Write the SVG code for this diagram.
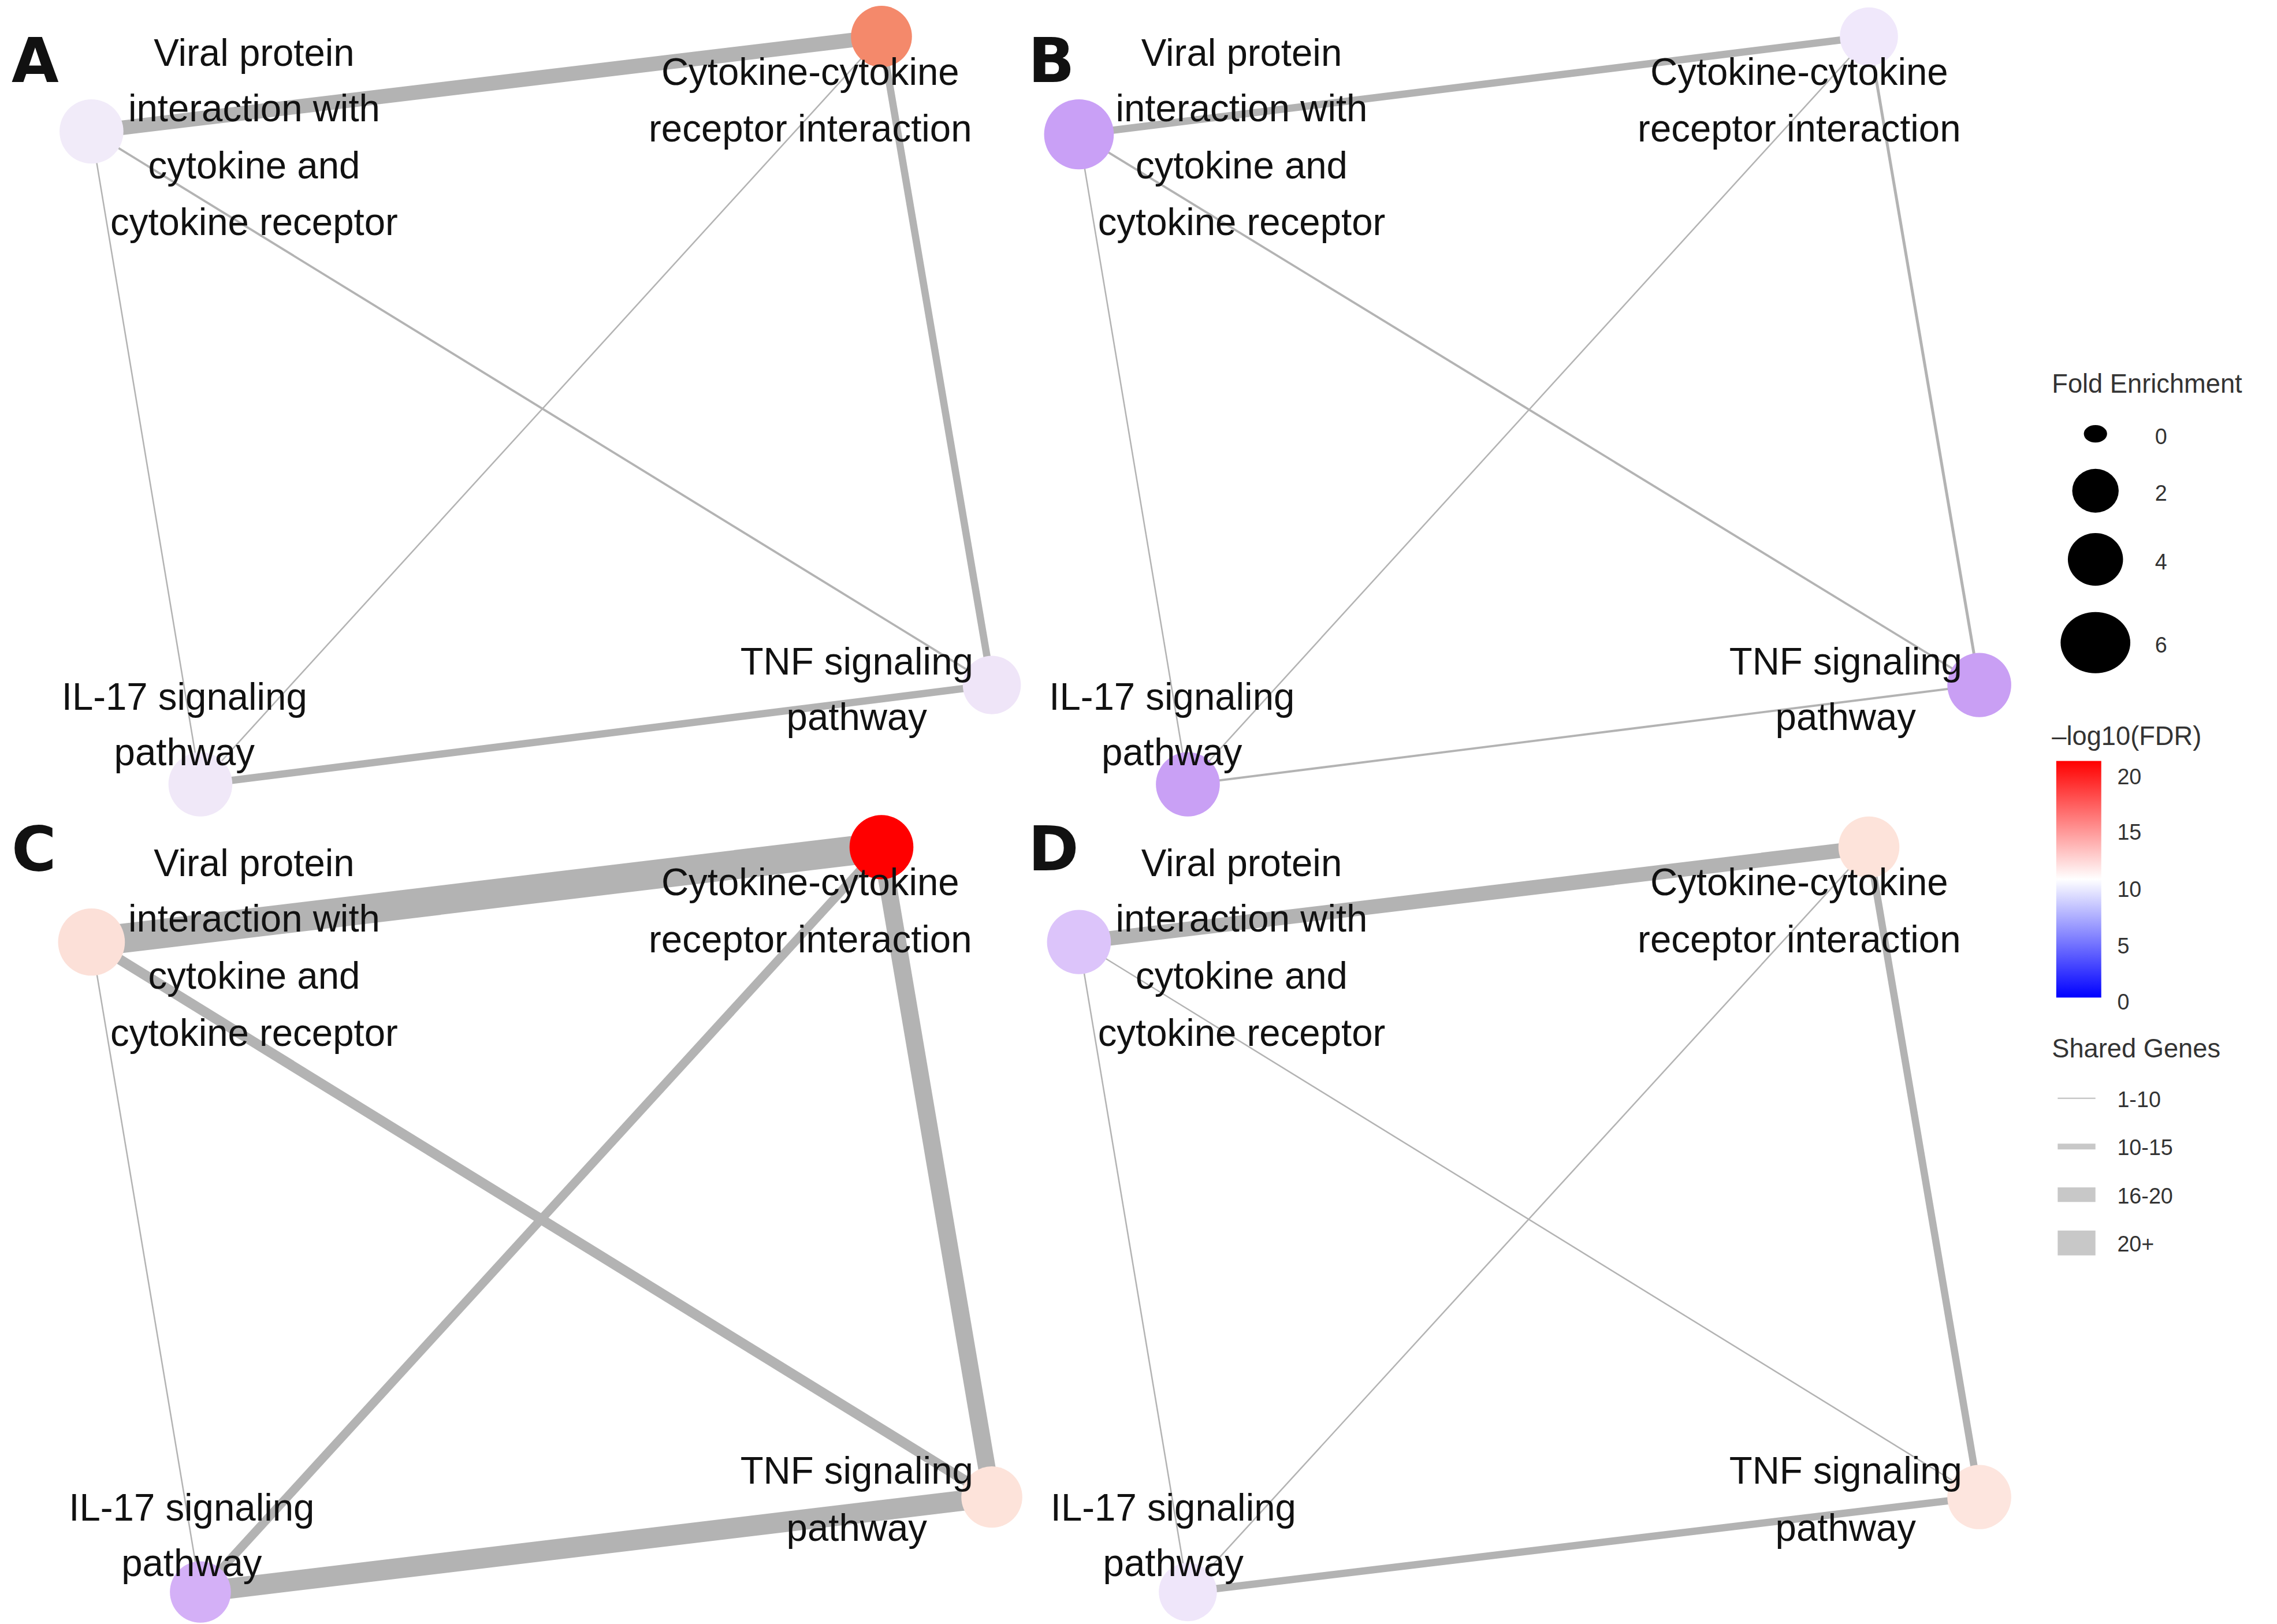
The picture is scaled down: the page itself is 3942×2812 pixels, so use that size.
<svg xmlns="http://www.w3.org/2000/svg" width="3942" height="2812" viewBox="0 0 3942 2812">
<style>
text{font-family:"Liberation Sans",Arial,sans-serif;fill:#111}
.l{font-size:26px;text-anchor:middle}
.p{font-size:42px;font-weight:bold;font-family:"DejaVu Sans","Liberation Sans",sans-serif}
.e{stroke:#b3b3b3;fill:none;stroke-linecap:butt}
.g{font-size:18px;fill:#333}
.t{font-size:15px;fill:#333}
</style>
<defs>
<linearGradient id="fdr" x1="0" y1="0" x2="0" y2="1">
<stop offset="0" stop-color="#ff0000"/><stop offset="0.5" stop-color="#ffffff"/><stop offset="1" stop-color="#0000ff"/>
</linearGradient>
</defs>
<rect width="3942" height="2812" fill="#fff"/>
<g transform="scale(2.514 2.529)">
<g id="connectors">
<line class="e" x1="63" y1="90" x2="607" y2="25" stroke-width="10"/>
<line class="e" x1="607" y1="25" x2="683" y2="469" stroke-width="5"/>
<line class="e" x1="683" y1="469" x2="138" y2="537" stroke-width="5"/>
<line class="e" x1="63" y1="90" x2="138" y2="537" stroke-width="1"/>
<line class="e" x1="63" y1="90" x2="683" y2="469" stroke-width="1.5"/>
<line class="e" x1="607" y1="25" x2="138" y2="537" stroke-width="1"/>
<line class="e" x1="743" y1="92" x2="1287" y2="25" stroke-width="5"/>
<line class="e" x1="1287" y1="25" x2="1363" y2="469" stroke-width="2"/>
<line class="e" x1="1363" y1="469" x2="818" y2="537" stroke-width="1.5"/>
<line class="e" x1="743" y1="92" x2="818" y2="537" stroke-width="1"/>
<line class="e" x1="743" y1="92" x2="1363" y2="469" stroke-width="1.5"/>
<line class="e" x1="1287" y1="25" x2="818" y2="537" stroke-width="1"/>
<line class="e" x1="63" y1="645" x2="607" y2="580" stroke-width="20"/>
<line class="e" x1="607" y1="580" x2="683" y2="1025" stroke-width="12"/>
<line class="e" x1="683" y1="1025" x2="138" y2="1090" stroke-width="14"/>
<line class="e" x1="63" y1="645" x2="138" y2="1090" stroke-width="1"/>
<line class="e" x1="63" y1="645" x2="683" y2="1025" stroke-width="7"/>
<line class="e" x1="607" y1="580" x2="138" y2="1090" stroke-width="6"/>
<line class="e" x1="743" y1="645" x2="1287" y2="580" stroke-width="10"/>
<line class="e" x1="1287" y1="580" x2="1363" y2="1025" stroke-width="5"/>
<line class="e" x1="1363" y1="1025" x2="818" y2="1090" stroke-width="5"/>
<line class="e" x1="743" y1="645" x2="818" y2="1090" stroke-width="1"/>
<line class="e" x1="743" y1="645" x2="1363" y2="1025" stroke-width="1"/>
<line class="e" x1="1287" y1="580" x2="818" y2="1090" stroke-width="1"/>
</g>
<g id="panelA">
<circle cx="63" cy="90" r="22" fill="#f1ebf9"/>
<circle cx="607" cy="25" r="21" fill="#f4896b"/>
<circle cx="683" cy="469" r="20" fill="#efe5f8"/>
<circle cx="138" cy="537" r="22" fill="#f0e8f8"/>
<text class="p" x="8" y="56">A</text>
</g>
<g id="panelB">
<circle cx="743" cy="92" r="24" fill="#c9a0f6"/>
<circle cx="1287" cy="25" r="20" fill="#f0e8fb"/>
<circle cx="1363" cy="469" r="22" fill="#c99ff4"/>
<circle cx="818" cy="537" r="22" fill="#c9a0f5"/>
<text class="p" x="708" y="56">B</text>
</g>
<g id="panelC">
<circle cx="63" cy="645" r="23" fill="#fce0d8"/>
<circle cx="607" cy="580" r="22" fill="#f00"/>
<circle cx="683" cy="1025" r="21" fill="#fde3da"/>
<circle cx="138" cy="1090" r="21" fill="#d4b0f7"/>
<text class="p" x="8" y="596">C</text>
</g>
<g id="panelD">
<circle cx="743" cy="645" r="22" fill="#dcc4fa"/>
<circle cx="1287" cy="580" r="21" fill="#fde3da"/>
<circle cx="1363" cy="1025" r="22" fill="#fde5de"/>
<circle cx="818" cy="1090" r="20" fill="#efe6fa"/>
<text class="p" x="708" y="596">D</text>
</g>
<g id="labels">
<text class="l" x="175" y="45">Viral protein</text><text class="l" x="175" y="83">interaction with</text><text class="l" x="175" y="122">cytokine and</text><text class="l" x="175" y="161">cytokine receptor</text>
<text class="l" x="558" y="58">Cytokine-cytokine</text><text class="l" x="558" y="97">receptor interaction</text>
<text class="l" x="590" y="462">TNF signaling</text><text class="l" x="590" y="500">pathway</text>
<text class="l" x="127" y="486">IL-17 signaling</text><text class="l" x="127" y="524">pathway</text>
<text class="l" x="855" y="45">Viral protein</text><text class="l" x="855" y="83">interaction with</text><text class="l" x="855" y="122">cytokine and</text><text class="l" x="855" y="161">cytokine receptor</text>
<text class="l" x="1239" y="58">Cytokine-cytokine</text><text class="l" x="1239" y="97">receptor interaction</text>
<text class="l" x="1271" y="462">TNF signaling</text><text class="l" x="1271" y="500">pathway</text>
<text class="l" x="807" y="486">IL-17 signaling</text><text class="l" x="807" y="524">pathway</text>
<text class="l" x="175" y="600">Viral protein</text><text class="l" x="175" y="638">interaction with</text><text class="l" x="175" y="677">cytokine and</text><text class="l" x="175" y="716">cytokine receptor</text>
<text class="l" x="558" y="613">Cytokine-cytokine</text><text class="l" x="558" y="652">receptor interaction</text>
<text class="l" x="590" y="1016">TNF signaling</text><text class="l" x="590" y="1055">pathway</text>
<text class="l" x="132" y="1041">IL-17 signaling</text><text class="l" x="132" y="1079">pathway</text>
<text class="l" x="855" y="600">Viral protein</text><text class="l" x="855" y="638">interaction with</text><text class="l" x="855" y="677">cytokine and</text><text class="l" x="855" y="716">cytokine receptor</text>
<text class="l" x="1239" y="613">Cytokine-cytokine</text><text class="l" x="1239" y="652">receptor interaction</text>
<text class="l" x="1271" y="1016">TNF signaling</text><text class="l" x="1271" y="1055">pathway</text>
<text class="l" x="808" y="1041">IL-17 signaling</text><text class="l" x="808" y="1079">pathway</text>
</g>
<g id="legend">
<text class="g" x="1413" y="269">Fold Enrichment</text>
<ellipse cx="1443" cy="297" rx="8" ry="6" fill="#000"/>
<ellipse cx="1443" cy="336" rx="16" ry="15" fill="#000"/>
<ellipse cx="1443" cy="383" rx="19" ry="18" fill="#000"/>
<ellipse cx="1443" cy="440" rx="24" ry="21" fill="#000"/>
<text class="t" x="1484" y="304">0</text><text class="t" x="1484" y="343">2</text><text class="t" x="1484" y="390">4</text><text class="t" x="1484" y="447">6</text>
<text class="g" x="1413" y="510">–log10(FDR)</text>
<rect x="1416" y="521" width="31" height="162" fill="url(#fdr)"/>
<text class="t" x="1458" y="537">20</text><text class="t" x="1458" y="575">15</text><text class="t" x="1458" y="614">10</text><text class="t" x="1458" y="653">5</text><text class="t" x="1458" y="691">0</text>
<text class="g" x="1413" y="724">Shared Genes</text>
<line x1="1417" y1="752" x2="1443" y2="752" stroke="#c8c8c8" stroke-width="1"/>
<line x1="1417" y1="785" x2="1443" y2="785" stroke="#c8c8c8" stroke-width="4"/>
<line x1="1417" y1="818" x2="1443" y2="818" stroke="#c8c8c8" stroke-width="10"/>
<line x1="1417" y1="851" x2="1443" y2="851" stroke="#c8c8c8" stroke-width="17"/>
<text class="t" x="1458" y="758">1-10</text><text class="t" x="1458" y="791">10-15</text><text class="t" x="1458" y="824">16-20</text><text class="t" x="1458" y="857">20+</text>
</g>
</g>
</svg>
